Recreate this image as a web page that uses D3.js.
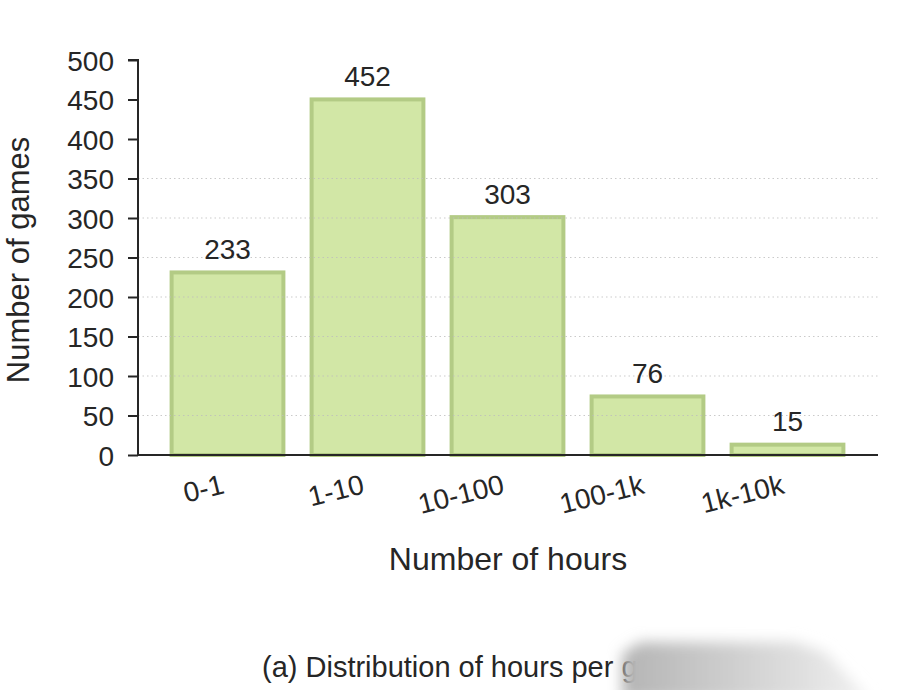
<!DOCTYPE html>
<html>
<head>
<meta charset="utf-8">
<script src="https://cdn.jsdelivr.net/npm/d3@7"></script>
<style>
  html, body { margin: 0; padding: 0; background: #fff; }
  text { font-family: "Liberation Sans", Arial, Helvetica, sans-serif; fill: #262626; }
</style>
</head>
<body>
<svg id="chart" width="903" height="690"></svg>
<script>
const categories = ["0-1", "1-10", "10-100", "100-1k", "1k-10k"];
const values = [233, 452, 303, 76, 15];
const yTicks = [0, 50, 100, 150, 200, 250, 300, 350, 400, 450, 500];
const gridTicks = [50, 100, 150, 200, 250, 300, 350];
const yTitle = "Number of games";
const xTitle = "Number of hours";
const caption = "(a) Distribution of hours per game";

const svg = d3.select("#chart");
const x0 = 138, x1 = 878, yTop = 60, yBot = 455;

const x = d3.scaleBand().domain(categories).range([157.5, 857.5])
  .paddingInner(0.18).paddingOuter(0.09);
const y = d3.scaleLinear().domain([0, 500]).range([yBot, yTop]);

// bars
svg.append("g").selectAll("rect").data(values).join("rect")
  .attr("x", (d, i) => x(categories[i]) + 1.5)
  .attr("width", x.bandwidth() - 3)
  .attr("y", d => y(d) + 1.5)
  .attr("height", d => yBot - y(d) - 1.5)
  .attr("fill", "#d2e7a6")
  .attr("stroke", "#b3cb85")
  .attr("stroke-width", 4);

// grid (drawn over bars, faint)
svg.append("g").selectAll("line").data(gridTicks).join("line")
  .attr("x1", x0).attr("x2", x1)
  .attr("y1", d => y(d)).attr("y2", d => y(d))
  .attr("stroke", "#bdbdbd").attr("stroke-opacity", 0.8).attr("stroke-width", 1.2)
  .attr("stroke-dasharray", "1.5,3");

// value labels
svg.append("g").selectAll("text").data(values).join("text")
  .attr("x", (d, i) => x(categories[i]) + x.bandwidth() / 2)
  .attr("y", d => y(d) - 12)
  .attr("text-anchor", "middle")
  .attr("font-size", 28)
  .text(d => d);

// y axis
const yAxis = d3.axisLeft(y).tickValues(yTicks).tickSize(10).tickPadding(14);
const gy = svg.append("g").attr("transform", `translate(${x0},0)`).call(yAxis);
gy.select(".domain").attr("stroke", "#262626").attr("stroke-width", 2).attr("d", `M-10,${yTop}H0V${yBot}`);
gy.selectAll(".tick line").attr("stroke", "#262626").attr("stroke-width", 2);
gy.selectAll(".tick text").attr("font-size", 28).attr("fill", "#262626")
  .attr("dy", "0.36em");

// x axis
const xAxis = d3.axisBottom(x).tickSize(0).tickPadding(0);
const gx = svg.append("g").attr("transform", `translate(0,${yBot})`).call(xAxis);
gx.select(".domain").attr("stroke", "#262626").attr("stroke-width", 2).attr("d", `M${x0},0H${x1}`);
gx.selectAll(".tick text")
  .attr("font-size", 28).attr("fill", "#262626")
  .attr("text-anchor", "end")
  .attr("dy", null).attr("y", null)
  .attr("transform", "translate(-2,38) rotate(-14)");

// titles
svg.append("text")
  .attr("transform", `translate(29,260) rotate(-90)`)
  .attr("text-anchor", "middle").attr("font-size", 31)
  .text(yTitle);
svg.append("text")
  .attr("x", 508).attr("y", 570)
  .attr("text-anchor", "middle").attr("font-size", 32)
  .text(xTitle);
svg.append("text")
  .attr("x", 262).attr("y", 677)
  .attr("font-size", 29)
  .text(caption);

// occluding smear over caption end
const defs = svg.append("defs");
const f = defs.append("filter").attr("id", "blur").attr("x", "-50%").attr("y", "-50%").attr("width", "200%").attr("height", "200%");
f.append("feGaussianBlur").attr("stdDeviation", 7);
const lg = defs.append("linearGradient").attr("id", "smear").attr("x1", "0").attr("x2", "1").attr("y1", "0").attr("y2", "0");
lg.append("stop").attr("offset", "0").attr("stop-color", "#b4b4b4");
lg.append("stop").attr("offset", "0.6").attr("stop-color", "#d8d8d8");
lg.append("stop").attr("offset", "1").attr("stop-color", "#f0f0f0");
svg.append("polygon")
  .attr("points", "622,654 640,642 795,642 825,652 870,700 622,700")
  .attr("fill", "url(#smear)").attr("filter", "url(#blur)");
</script>
</body>
</html>
